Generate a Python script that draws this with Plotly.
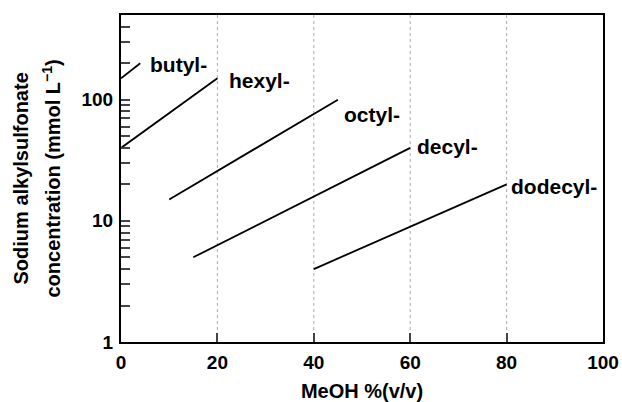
import math
import plotly.graph_objects as go

names = ["butyl-", "hexyl-", "octyl-", "decyl-", "dodecyl-"]
x_start = [0, 0, 10, 15, 40]
x_end = [4, 20, 45, 60, 80]
y_start = [150, 40, 15, 5, 4]
y_end = [200, 150, 100, 40, 20]
label_x = [5.6, 22.0, 45.8, 61.0, 80.5]
label_y = [196, 145, 76, 41, 19.3]

x_ticks = [0, 20, 40, 60, 80, 100]
y_major = [1, 10, 100]
y_all = [1, 2, 3, 4, 5, 6, 7, 8, 9, 10, 20, 30, 40, 50, 60, 70, 80, 90, 100, 200, 300, 400, 500]

FONT = "Liberation Sans"
L, R, T, B = 121, 19, 15, 60
W, H = 622, 402
pw = W - L - R

fig = go.Figure()
for i in range(len(names)):
    fig.add_trace(go.Scatter(x=[x_start[i], x_end[i]], y=[y_start[i], y_end[i]],
                             mode="lines", line=dict(color="black", width=1.8),
                             showlegend=False, hoverinfo="skip"))
    fig.add_annotation(x=label_x[i], y=math.log10(label_y[i]), yref="y", xref="x",
                       text="<b>" + names[i] + "</b>", showarrow=False,
                       xanchor="left", yanchor="middle",
                       font=dict(size=21, color="black", family=FONT))

for gx in [20, 40, 60, 80]:
    fig.add_shape(type="line", x0=gx, x1=gx, y0=0, y1=1, xref="x", yref="paper",
                  line=dict(color="#aaaaaa", width=1, dash="dot"), layer="below")

# y axis title as annotation (two lines)
fig.add_annotation(x=(20 - L) / pw, y=0.5, xref="paper", yref="paper",
                   text="<b>Sodium alkylsulfonate</b>", textangle=-90, showarrow=False,
                   xanchor="center", yanchor="middle",
                   font=dict(size=20, color="black", family=FONT))
fig.add_annotation(x=(51 - L) / pw, y=0.5, xref="paper", yref="paper",
                   text="<b>concentration (mmol L<sup>−1</sup>)</b>", textangle=-90, showarrow=False,
                   xanchor="center", yanchor="middle",
                   font=dict(size=20, color="black", family=FONT))

fig.update_layout(
    width=W, height=H,
    margin=dict(l=L, r=R, t=T, b=B, autoexpand=False),
    plot_bgcolor="white", paper_bgcolor="white",
    font=dict(family=FONT, size=19, color="black"),
    xaxis=dict(range=[0, 100], tickvals=x_ticks, automargin=False,
               ticktext=["<b>%d</b>" % v for v in x_ticks],
               ticks="inside", ticklen=9, tickwidth=2, ticklabelstandoff=2,
               showgrid=False, zeroline=False, showline=True, linewidth=2, linecolor="black",
               mirror=True,
               title=dict(text="<b>MeOH %(v/v)</b>", standoff=13, font=dict(size=20)),
               tickfont=dict(size=19)),
    yaxis=dict(type="log", range=[0, math.log10(500)], tickvals=y_all, automargin=False,
               ticktext=["<b>%d</b>" % v if v in y_major else "" for v in y_all],
               ticks="inside", ticklen=9, tickwidth=1.5, ticklabelstandoff=2,
               showgrid=False, zeroline=False, showline=True, linewidth=2, linecolor="black",
               mirror=True, tickfont=dict(size=19)),
)

fig.write_html("out.html")
